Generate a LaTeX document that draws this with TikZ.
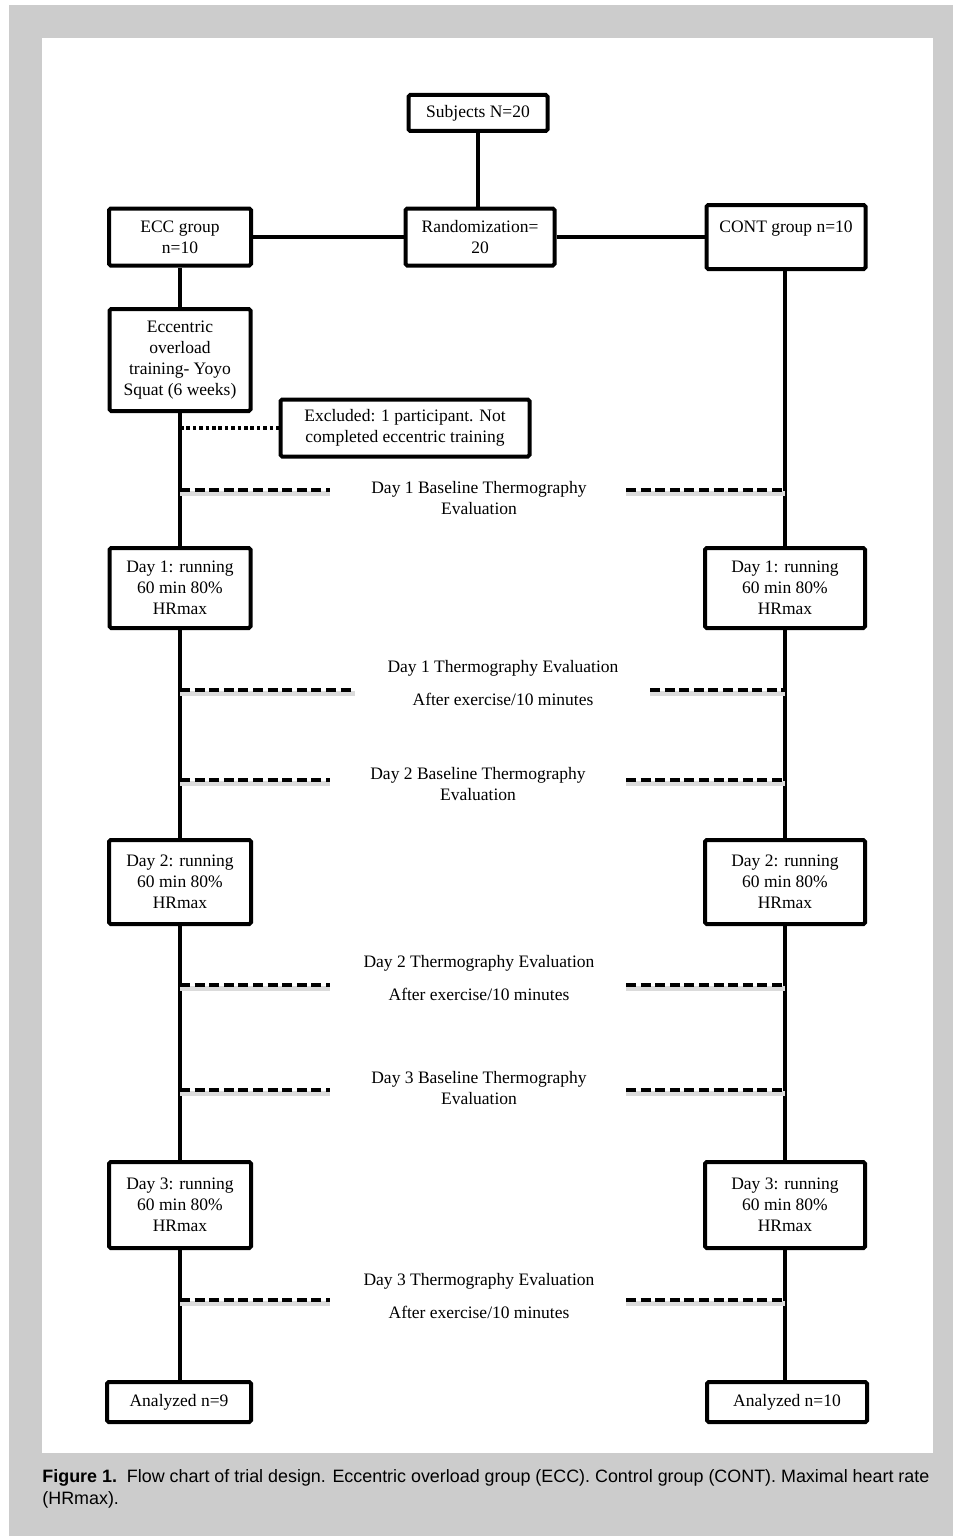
\documentclass[tikz,border=0pt]{standalone}
\usepackage{fontspec}
\setmainfont{Liberation Serif}
\setsansfont{Liberation Sans}
\definecolor{bggray}{HTML}{CCCCCC}
\newcommand\bxfont{\fontsize{8.75}{10.5}\selectfont}
\newcommand\capfont{\sffamily\fontsize{8.95}{11}\selectfont}
\begin{document}
\begin{tikzpicture}[x=0.5pt,y=-0.5pt,
 box/.style={draw, line width=2pt, rounded corners=0.8pt, align=center, inner sep=0pt, font=\bxfont, fill=white},
 conn/.style={line width=2.2pt},
 dashline/.style={line width=1.6pt, dash pattern=on 5pt off 2.3pt, preaction={draw=black!14, line width=2.4pt, transform canvas={yshift=-1.8pt}}},
 dotline/.style={line width=1.6pt, dash pattern=on 1.8pt off 1.4pt},
 lab/.style={align=center, font=\bxfont, inner sep=0pt}]
\useasboundingbox (0,0) rectangle (953,1536);
\fill[white] (0,0) rectangle (953,1536);
\fill[bggray] (9,5) rectangle (953,1536);
\fill[white] (42,38) rectangle (933,1453);

\node[box, minimum width=69.5pt, minimum height=18pt] (subj) at (478,113) {Subjects N=20};
\node[box, minimum width=74.5pt, minimum height=28.5pt] (rand) at (480,237) {Randomization=\\20};
\node[box, minimum width=71pt, minimum height=28.5pt] (ecc) at (180,237) {ECC group\\n=10};
\node[box, minimum width=79.5pt, minimum height=32pt] (cont) at (786,237) {CONT group n=10\\\mbox{}};
\node[box, minimum width=70.5pt, minimum height=51pt] (train) at (180,360) {Eccentric\\overload\\training- Yoyo\\Squat (6 weeks)};
\node[box, minimum width=124.5pt, minimum height=28.5pt] (excl) at (405,428) {Excluded: 1 participant. Not\\completed eccentric training};

\node[box, minimum width=70.5pt, minimum height=40pt] (d1L) at (180,588) {Day 1: running\\60 min 80\%\\HRmax};
\node[box, minimum width=80pt, minimum height=40pt] (d1R) at (785,588) {Day 1: running\\60 min 80\%\\HRmax};
\node[box, minimum width=71pt, minimum height=42pt] (d2L) at (180,882) {Day 2: running\\60 min 80\%\\HRmax};
\node[box, minimum width=80pt, minimum height=42pt] (d2R) at (785,882) {Day 2: running\\60 min 80\%\\HRmax};
\node[box, minimum width=71pt, minimum height=43pt] (d3L) at (180,1205) {Day 3: running\\60 min 80\%\\HRmax};
\node[box, minimum width=80pt, minimum height=43pt] (d3R) at (785,1205) {Day 3: running\\60 min 80\%\\HRmax};
\node[box, minimum width=72pt, minimum height=20pt] (anL) at (179,1402) {Analyzed n=9};
\node[box, minimum width=80pt, minimum height=20pt] (anR) at (787,1402) {Analyzed n=10};

% labels
\node[lab] (b1) at (479,498) {Day 1 Baseline Thermography\\Evaluation};
\node[lab] (t1) at (503,683) {Day 1 Thermography Evaluation\\[6.3pt]After exercise/10 minutes};
\node[lab] (b2) at (478,784) {Day 2 Baseline Thermography\\Evaluation};
\node[lab] (t2) at (479,978) {Day 2 Thermography Evaluation\\[6.3pt]After exercise/10 minutes};
\node[lab] (b3) at (479,1088) {Day 3 Baseline Thermography\\Evaluation};
\node[lab] (t3) at (479,1296) {Day 3 Thermography Evaluation\\[6.3pt]After exercise/10 minutes};

% dashed line ends
\coordinate (b1l) at (330,490); \coordinate (b1r) at (626,490);
\coordinate (t1l) at (355,690); \coordinate (t1r) at (650,690);
\coordinate (b2l) at (330,780); \coordinate (b2r) at (626,780);
\coordinate (t2l) at (330,985); \coordinate (t2r) at (626,985);
\coordinate (b3l) at (330,1090); \coordinate (b3r) at (626,1090);
\coordinate (t3l) at (330,1300); \coordinate (t3r) at (626,1300);

% solid connectors
\draw[conn] (subj) -- (subj |- rand.north);
\draw[conn] (rand) -- (ecc);
\draw[conn] (rand) -- (cont.west |- rand);
\draw[conn] (ecc) -- (train);
\draw[conn] (train) -- (d1L);
\draw[conn] (d1L) -- (d2L);
\draw[conn] (d2L) -- (d3L);
\draw[conn] (d3L) -- (anL.north -| d3L);
\draw[conn] (cont.south -| d1R) -- (d1R);
\draw[conn] (d1R) -- (d2R);
\draw[conn] (d2R) -- (d3R);
\draw[conn] (d3R) -- (anR.north -| d3R);

% dotted exclusion
\draw[dotline] (train.south |- excl) -- (excl.west);

% dashed
\foreach \n in {b1,t1,b2,t2,b3,t3}{
  \draw[dashline] (d1L.south |- \n l) -- (\n l);
  \draw[dashline] (\n r) -- (d1R.south |- \n r);
}

% caption
\node[anchor=west, align=left, inner sep=0pt, font=\capfont] (cap) at (42,1489)
 {\textbf{Figure 1.}\ \ Flow chart of trial design. Eccentric overload group (ECC). Control group (CONT). Maximal heart rate\\(HRmax).};
\end{tikzpicture}
\end{document}
